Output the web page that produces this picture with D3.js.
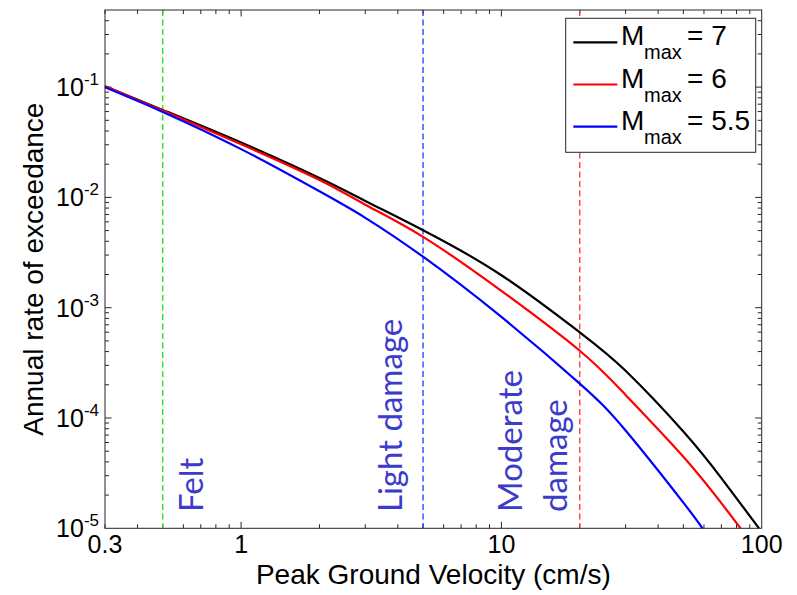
<!DOCTYPE html>
<html>
<head>
<meta charset="utf-8">
<script src="https://cdn.jsdelivr.net/npm/d3@7"></script>
<style>
  body { margin: 0; background: #fff; }
  svg text { font-family: "Liberation Sans", Arial, sans-serif; }
</style>
</head>
<body>
<div id="viz"></div>
<script>
// curves (PGV in cm/s, annual rate)
const pgvM7 = [0.3, 0.5, 1, 2, 3, 5, 10, 20, 30, 50, 70, 97.7];
const rateM7 = [0.102, 0.0621, 0.0314, 0.0150, 0.00929, 0.00504, 0.00197, 0.000598, 0.000268, 0.0000754, 0.0000285, 0.00001];
const pgvM6 = [0.3, 0.5, 1, 2, 3, 5, 10, 20, 30, 50, 70, 83];
const rateM6 = [0.102, 0.0614, 0.0303, 0.0144, 0.00859, 0.00439, 0.00142, 0.000407, 0.000162, 0.0000446, 0.0000169, 0.00001];
const pgvM55 = [0.3, 0.5, 1, 2, 3, 5, 10, 20, 30, 50, 59.2];
const rateM55 = [0.0996, 0.0596, 0.0274, 0.01135, 0.00653, 0.0029, 0.000824, 0.000205, 0.000077, 0.0000171, 0.00001];
const mmaxLabels = ['7', '6', '5.5'];

// damage thresholds
const thresholdPgv = [0.5, 5, 20];
const thresholdLabels = [['Felt'], ['Light damage'], ['Moderate', 'damage']];

// ticks
const xTickValues = [0.3, 1, 10, 100];
const xTickLabels = ['0.3', '1', '10', '100'];
const yTickExps = [-5, -4, -3, -2, -1];

const width = 797, height = 595;
const plot = { left: 105, right: 761.7, top: 10, bottom: 528.3 };
const seriesColors = ['#000000', '#ff0000', '#0000ff'];
const thresholdColors = ['#22dd22', '#2233ff', '#ff3333'];
const annotColor = '#3b3bcc';

var x = d3.scaleLog().domain([0.3, 100]).range([plot.left, plot.right]),
  y = d3.scaleLog().domain([1e-5, 0.5]).range([plot.bottom, plot.top]);

var svg = d3.select('#viz').append('svg')
  .attr('width', width)
  .attr('height', height);

var series = [
  { pgv: pgvM7, rate: rateM7 },
  { pgv: pgvM6, rate: rateM6 },
  { pgv: pgvM55, rate: rateM55 }
];

// minor/major ticks (inward, all four sides)
var xMinor = [], yMinor = [];
for (let e = -1; e <= 2; e++) {
  for (let m = 2; m < 10; m++) {
    let v = m * Math.pow(10, e);
    if (v > 0.3 && v < 100) xMinor.push(v);
  }
}
for (let e = -5; e <= -1; e++) {
  for (let m = 2; m < 10; m++) {
    let v = m * Math.pow(10, e);
    if (v < 0.5) yMinor.push(v);
  }
}
var xMajor = [1, 10];
var yMajor = yTickExps.slice(1).map(e => Math.pow(10, e));

var ticks = svg.append('g').attr('stroke', '#262626').attr('stroke-width', 1);
function vTicks(vals, len) {
  vals.forEach(v => {
    ticks.append('line').attr('x1', x(v)).attr('x2', x(v)).attr('y1', plot.bottom).attr('y2', plot.bottom - len);
    ticks.append('line').attr('x1', x(v)).attr('x2', x(v)).attr('y1', plot.top).attr('y2', plot.top + len);
  });
}
function hTicks(vals, len) {
  vals.forEach(v => {
    ticks.append('line').attr('y1', y(v)).attr('y2', y(v)).attr('x1', plot.left).attr('x2', plot.left + len);
    ticks.append('line').attr('y1', y(v)).attr('y2', y(v)).attr('x1', plot.right).attr('x2', plot.right - len);
  });
}
vTicks(xMinor, 4); vTicks(xMajor, 6.5);
hTicks(yMinor, 4); hTicks(yMajor, 6.5);

// threshold lines
svg.selectAll('.thr')
  .data(thresholdPgv)
  .enter().append('line')
  .attr('x1', d => x(d)).attr('x2', d => x(d))
  .attr('y1', plot.top).attr('y2', plot.bottom)
  .attr('stroke', (d, i) => thresholdColors[i])
  .attr('stroke-width', 1.3)
  .attr('stroke-dasharray', '6,3.5');

// curves, smooth in log-log space
var line = d3.line()
  .x(d => x(d[0]))
  .y(d => y(d[1]))
  .curve(d3.curveNatural);
svg.selectAll('.curve')
  .data(series)
  .enter().append('path')
  .attr('d', s => line(s.pgv.map((p, i) => [p, s.rate[i]])))
  .attr('fill', 'none')
  .attr('stroke', (d, i) => seriesColors[i])
  .attr('stroke-width', 2.2);

// frame
svg.append('rect')
  .attr('x', plot.left).attr('y', plot.top)
  .attr('width', plot.right - plot.left).attr('height', plot.bottom - plot.top)
  .attr('fill', 'none').attr('stroke', '#262626').attr('stroke-width', 1);

// annotations (rotated)
var annotOffsets = [[40.3], [-21], [-57.6, -12.8]];
thresholdLabels.forEach((lines, i) => {
  lines.forEach((txt, j) => {
    let bx = x(thresholdPgv[i]) + annotOffsets[i][j];
    svg.append('text')
      .attr('transform', `translate(${bx},512)rotate(-90)`)
      .style('font-family', 'Lato, "Open Sans", sans-serif')
      .style('font-size', '33px')
      .attr('fill', annotColor)
      .text(txt);
  });
});

// x tick labels
svg.selectAll('.xtl')
  .data(xTickValues)
  .enter().append('text')
  .attr('x', d => x(d))
  .attr('y', 553)
  .attr('text-anchor', 'middle')
  .style('font-size', '25px')
  .text((d, i) => xTickLabels[i]);

// y tick labels 10^e
yTickExps.forEach(e => {
  let t = svg.append('text')
    .attr('x', 99)
    .attr('y', y(Math.pow(10, e)) + 9)
    .attr('text-anchor', 'end')
    .style('font-size', '25px');
  t.append('tspan').text('10');
  t.append('tspan').attr('dy', -11).style('font-size', '17px').text(String(e));
});

// axis labels
svg.append('text')
  .attr('x', (plot.left + plot.right) / 2)
  .attr('y', 584)
  .attr('text-anchor', 'middle')
  .style('font-size', '28px')
  .text('Peak Ground Velocity (cm/s)');
svg.append('text')
  .attr('transform', `translate(43,${(plot.top + plot.bottom) / 2})rotate(-90)`)
  .attr('text-anchor', 'middle')
  .style('font-size', '28px')
  .text('Annual rate of exceedance');

// legend
var lg = svg.append('g');
lg.append('rect')
  .attr('x', 565.7).attr('y', 18.3)
  .attr('width', 190).attr('height', 134)
  .attr('fill', '#fff').attr('stroke', '#262626').attr('stroke-width', 1);
mmaxLabels.forEach((lab, i) => {
  let ry = 42.3 + i * 42.2;
  lg.append('line')
    .attr('x1', 573.3).attr('x2', 617.3)
    .attr('y1', ry).attr('y2', ry)
    .attr('stroke', seriesColors[i]).attr('stroke-width', 2.2);
  lg.append('text').attr('x', 621).attr('y', ry + 3).style('font-size', '28px').text('M');
  lg.append('text').attr('x', 644).attr('y', ry + 17).style('font-size', '20px').text('max');
  lg.append('text').attr('x', 687).attr('y', ry + 3).style('font-size', '28px').text('= ' + lab);
});
</script>
</body>
</html>
